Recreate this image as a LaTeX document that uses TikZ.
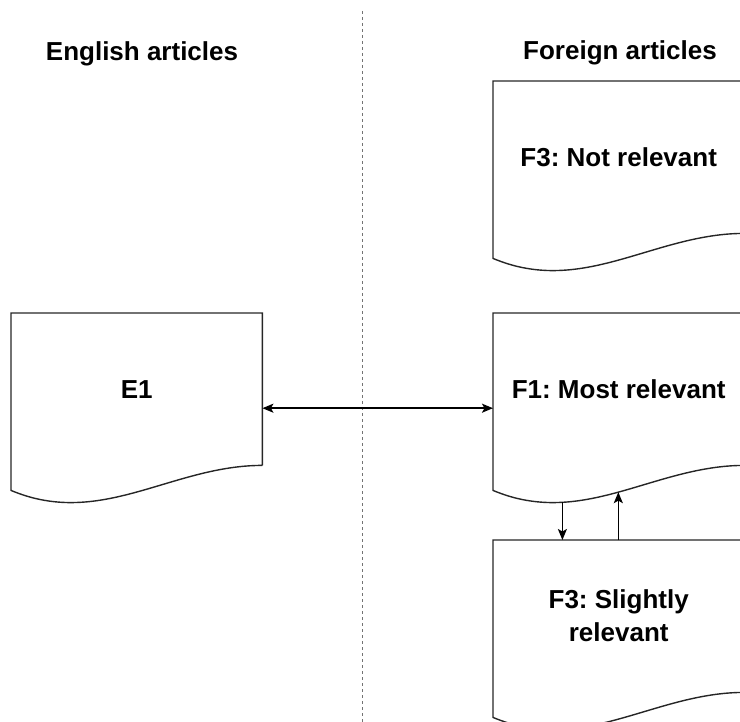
\documentclass[tikz,border=0pt]{standalone}
\usepackage{fontspec}
\setmainfont{Liberation Sans}
\usetikzlibrary{arrows.meta,calc}
\frenchspacing

% Outline of a "document" shape: flat top, wavy bottom edge.
% Two named points on the wave serve as connector ends.
\newcommand\docoutline[1]{%
  \draw[outline] (#1.south east) -- (#1.north east) -- (#1.north west)
    -- ($(#1.south west)+(0,25)$)
    .. controls +(90,38) and +(-91,0) ..
    coordinate[pos=0.27] (#1w1) coordinate[pos=0.5] (#1w2)
    (#1.south east);
}

\begin{document}
\begin{tikzpicture}[x=1pt,y=-1pt,
  doc/.style={rectangle, minimum width=251pt, minimum height=152pt,
    inner sep=0pt, anchor=north west, align=center,
    font=\bfseries\fontsize{26}{33}\selectfont},
  outline/.style={draw=black!85, line width=1.4pt},
  tip/.tip={Stealth[length=11pt,width=9pt,inset=2.5pt]},
  link/.style={line width=1.6pt, tip-tip},
  oneway/.style={line width=1.6pt, -tip},
  head/.style={font=\bfseries\fontsize{26}{30}\selectfont},
  divider/.style={draw=black!55, line width=1pt, dash pattern=on 3pt off 3pt}]
\useasboundingbox (0,0) rectangle (740,722);

% column divider
\coordinate (divtop) at (362,11);
\coordinate (divbot) at (362,722);
\draw[divider] (divtop) -- (divbot);

% column headings
\node[head] (eng) at (142,54) {English articles};
\node[head] (for) at (620,53) {Foreign articles};

% documents
\node[doc] (e1)  at (11,313)  {E1};
\node[doc] (f3n) at (493,81)  {F3: Not relevant};
\node[doc] (f1)  at (493,313) {F1: Most relevant};
\node[doc] (f3s) at (493,540) {F3: Slightly\\relevant};

\docoutline{e1}
\docoutline{f3n}
\docoutline{f1}
\docoutline{f3s}

% connectors
\draw[link] ([yshift=-19pt]e1.east) -- ([yshift=-19pt]f1.west);
\draw[oneway] (f1w1) -- (f1w1 |- f3s.north);
\draw[oneway] (f1w2 |- f3s.north) -- (f1w2);
\end{tikzpicture}
\end{document}
